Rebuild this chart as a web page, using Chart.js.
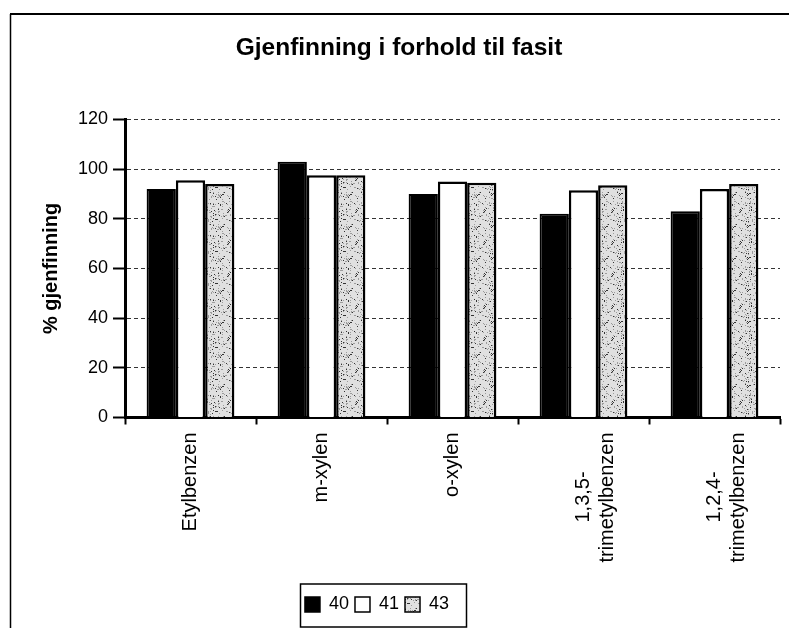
<!DOCTYPE html>
<html lang="no">
<head>
<meta charset="UTF-8">
<title>Gjenfinning i forhold til fasit</title>
<script src="https://cdn.jsdelivr.net/npm/chart.js@4"></script>
<style>
  body { margin: 0; background: #fff; }
  canvas { display: block; }
</style>
</head>
<body>
<canvas id="chart" width="789" height="628"></canvas>
<script>
  // Data lest av figuren
  const categories = ['Etylbenzen', 'm-xylen', 'o-xylen', ['1,3,5-', 'trimetylbenzen'], ['1,2,4-', 'trimetylbenzen']];
  const seriesNames = ['40', '41', '43'];
  const values40 = [92, 103, 90, 82, 83];
  const values41 = [95.5, 97.5, 95, 91.5, 92];
  const values43 = [94, 97.5, 94.5, 93.5, 94];
  const yTicks = [0, 20, 40, 60, 80, 100, 120];

  const FONT = "'Liberation Sans', Arial, sans-serif";

  // Prikkete (stiplet) fyll for serie 43
  function stipple() {
    const c = document.createElement('canvas');
    c.width = 32; c.height = 32;
    const g = c.getContext('2d');
    g.fillStyle = '#e0e0e0';
    g.fillRect(0, 0, 32, 32);
    let s = 12345;
    for (let i = 0; i < 170; i++) {
      s = (Math.imul(s, 1664525) + 1013904223) >>> 0;
      const x = s >>> 27;
      s = (Math.imul(s, 1664525) + 1013904223) >>> 0;
      const y = s >>> 27;
      g.fillStyle = i % 3 === 0 ? '#333' : '#9c9c9c';
      g.fillRect(x, y, 1, 1);
    }
    return g.createPattern(c, 'repeat');
  }

  // sentrer linjene i flerlinjede etiketter (Chart.js høyrejusterer roterte etiketter)
  const measure = document.createElement('canvas').getContext('2d');
  measure.font = '20px ' + FONT;
  function centerLines(label) {
    if (!Array.isArray(label)) return label;
    const widths = label.map(l => measure.measureText(l).width);
    const max = Math.max(...widths);
    const sp = measure.measureText(' ').width;
    return label.map((l, i) => l + ' '.repeat(Math.round((max - widths[i]) / 2 / sp)));
  }

  const frame = {
    id: 'frame',
    beforeDraw(chart) {
      const ctx = chart.ctx;
      ctx.save();
      ctx.fillStyle = '#fff';
      ctx.fillRect(0, 0, chart.width, chart.height);
      ctx.strokeStyle = '#000';
      ctx.lineWidth = 1.5;
      ctx.beginPath();
      ctx.moveTo(10.5, 640);
      ctx.lineTo(10.5, 14);
      ctx.stroke();
      ctx.lineWidth = 2;
      ctx.beginPath();
      ctx.moveTo(10, 14);
      ctx.lineTo(chart.width, 14);
      ctx.stroke();
      ctx.restore();
    },
    afterLayout(chart) {
      chart.legend.left -= 13;
      chart.legend.right -= 13;
      chart.titleBlock.left += 9;
      chart.titleBlock.right += 9;
    },
    afterDraw(chart) {
      const lg = chart.legend;
      const boxes = lg.legendHitBoxes;
      if (!boxes || !boxes.length) return;
      const l = Math.min(...boxes.map(b => b.left)) - 5;
      const r = Math.max(...boxes.map(b => b.left + b.width)) + 17;
      const ctx = chart.ctx;
      ctx.save();
      ctx.strokeStyle = '#000';
      ctx.lineWidth = 1.5;
      ctx.strokeRect(Math.round(l) + 0.5, Math.round(lg.top) - 6, Math.round(r - l), Math.round(lg.bottom - lg.top) + 9);
      ctx.restore();
    }
  };

  new Chart(document.getElementById('chart'), {
    type: 'bar',
    data: {
      labels: categories,
      datasets: [
        { label: seriesNames[0], data: values40, backgroundColor: '#000', borderColor: '#000', borderWidth: 2 },
        { label: seriesNames[1], data: values41, backgroundColor: '#fff', borderColor: '#000', borderWidth: 2.5 },
        { label: seriesNames[2], data: values43, backgroundColor: stipple(), borderColor: '#000', borderWidth: 2.5 }
      ]
    },
    options: {
      responsive: false,
      animation: false,
      layout: { padding: { left: 0, right: 9, top: 0, bottom: 4.5 } },
      datasets: { bar: { categoryPercentage: 0.67, barPercentage: 1.0 } },
      plugins: {
        title: {
          display: true,
          text: 'Gjenfinning i forhold til fasit',
          color: '#000',
          font: { family: FONT, size: 24.5, weight: 'bold' },
          padding: { top: 34, bottom: 56 }
        },
        legend: {
          position: 'bottom',
          labels: {
            color: '#000',
            font: { family: FONT, size: 18 },
            boxWidth: 15,
            boxHeight: 15,
            padding: 6,
            generateLabels(chart) {
              return Chart.defaults.plugins.legend.labels.generateLabels(chart)
                .map(item => Object.assign(item, { lineWidth: 1.5 }));
            }
          }
        },
        tooltip: { enabled: false }
      },
      scales: {
        x: {
          grid: { drawOnChartArea: false, drawTicks: true, tickLength: 7, tickColor: '#000', tickWidth: 2 },
          border: { color: '#000', width: 3 },
          ticks: {
            color: '#000',
            font: { family: FONT, size: 20 },
            minRotation: 90,
            maxRotation: 90,
            autoSkip: false,
            padding: 8,
            callback(value) { return centerLines(categories[value]); }
          },
          afterFit(axis) { axis.height = 172; }
        },
        y: {
          min: yTicks[0],
          max: yTicks[yTicks.length - 1],
          grid: { color: '#333', lineWidth: 1, tickLength: 12, tickColor: '#000', tickWidth: 2, tickBorderDash: [] },
          border: { color: '#000', width: 3, dash: [4, 3] },
          ticks: {
            stepSize: yTicks[1] - yTicks[0],
            color: '#000',
            font: { family: FONT, size: 18 },
            padding: 5
          },
          title: {
            display: true,
            text: '% gjenfinning',
            color: '#000',
            font: { family: FONT, size: 20, weight: 'bold' },
            padding: { top: 39, bottom: 0 }
          },
          afterFit(axis) { axis.width = 125; }
        }
      }
    },
    plugins: [frame]
  });
</script>
</body>
</html>
